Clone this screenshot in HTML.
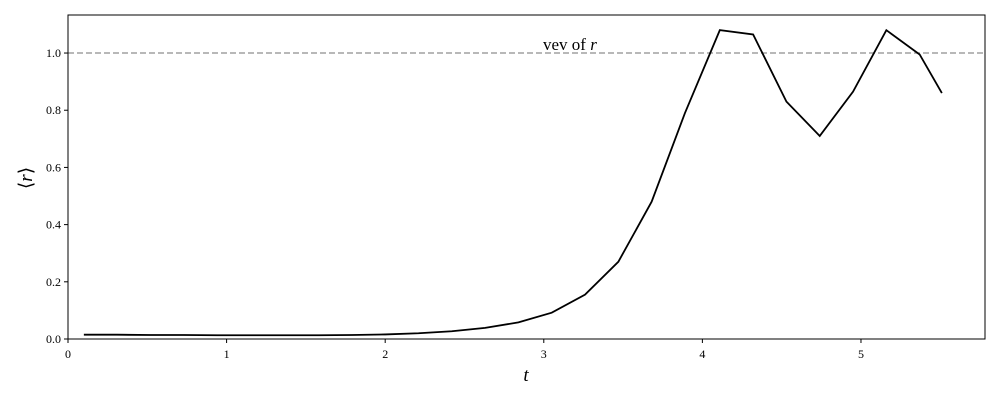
<!DOCTYPE html>
<html><head><meta charset="utf-8"><style>
body{margin:0;background:#fff;}
svg text{font-family:"Liberation Serif",serif;fill:#000;}
</style></head><body>
<svg id="chart" width="1000" height="400" xmlns="http://www.w3.org/2000/svg"></svg>
<script>
const xValues=[0.1,0.31,0.52,0.73,0.94,1.15,1.36,1.58,1.79,2.0,2.21,2.42,2.63,2.84,3.05,3.26,3.47,3.68,3.89,4.11,4.32,4.53,4.74,4.95,5.16,5.37,5.51];
const rValues=[0.015,0.015,0.014,0.014,0.013,0.013,0.013,0.013,0.014,0.016,0.02,0.027,0.039,0.058,0.092,0.155,0.27,0.48,0.79,1.08,1.065,0.83,0.71,0.865,1.08,0.995,0.86];
const xTicks=[0,1,2,3,4,5];
const yTicks=[0,0.2,0.4,0.6,0.8,1.0];
const refValue=[1.0];
const L=68,R=985,T=15,B=339,XMAX=5.782,YMAX=1.133;
const sx=v=>L+v/XMAX*(R-L), sy=v=>B-v/YMAX*(B-T);
const svg=document.getElementById('chart');
const NS='http://www.w3.org/2000/svg';
function mk(tag,attrs,parent){const e=document.createElementNS(NS,tag);for(const k in attrs)e.setAttribute(k,attrs[k]);(parent||svg).appendChild(e);return e;}
xTicks.forEach(t=>{
  const l=mk('line',{x1:sx(t),x2:sx(t),y1:B,y2:B+4,stroke:'#000'});
  
  
  const tx=mk('text',{x:sx(t),y:B+19,'text-anchor':'middle','font-size':12});
  tx.textContent=t;
  
  
});
yTicks.forEach(t=>{
  const l=mk('line',{x1:L-4,x2:L,y1:sy(t),y2:sy(t),stroke:'#000'});
  
  
  const tx=mk('text',{x:L-7,y:sy(t)+4,'text-anchor':'end','font-size':12});
  tx.textContent=t.toFixed(1);
  
  
});
refValue.forEach(v=>{
  const l=mk('line',{x1:L,x2:R,y1:sy(v),y2:sy(v),stroke:'#a0a0a0','stroke-width':1.5,'stroke-dasharray':'6,3'});
  
  
});
const lab=mk('text',{x:543,y:50,'font-size':17});
lab.innerHTML='vev of <tspan font-style="italic">r</tspan>';


const pts=xValues.map((x,i)=>sx(x)+','+sy(rValues[i])).join(' ');
const line=mk('polyline',{points:pts,fill:'none',stroke:'#000','stroke-width':1.8});


const frame=mk('rect',{x:L,y:T,width:R-L,height:B-T,fill:'none',stroke:'#000','stroke-width':1});


const xt=mk('text',{x:526,y:381,'font-size':19,'font-style':'italic','text-anchor':'middle'});
xt.textContent='t';


const yt=mk('text',{x:0,y:0,'font-size':19,'text-anchor':'middle',transform:'translate(32,178) rotate(-90)'});
yt.innerHTML='⟨<tspan font-style="italic">r</tspan>⟩';


</script>
</body></html>
